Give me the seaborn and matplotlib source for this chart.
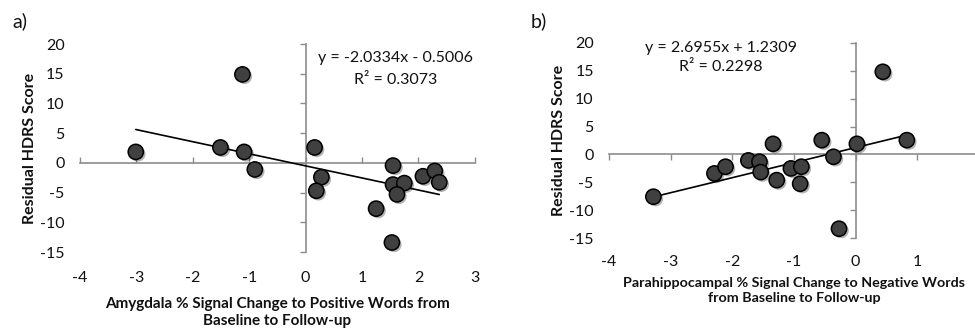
import numpy as np
import matplotlib
matplotlib.use("Agg")
import matplotlib.pyplot as plt
import matplotlib.patheffects as pe
import seaborn as sns
import pandas as pd

# ---- data ----
amyg_x = [-3.01, -1.12, -1.51, -1.09, -0.90, 0.16, 0.28, 0.19, 1.55, 1.55,
          1.75, 1.62, 1.25, 1.53, 2.08, 2.29, 2.37]
amyg_y = [1.85, 14.9, 2.6, 1.85, -1.1, 2.6, -2.4, -4.7, -0.45, -3.65,
          -3.4, -5.3, -7.7, -13.4, -2.25, -1.35, -3.26]
amyg_slope, amyg_icpt = -2.0334, -0.5006
amyg_eq = ["y = -2.0334x - 0.5006", "R² = 0.3073"]

para_x = [-3.28, -2.29, -2.11, -1.74, -1.56, -1.54, -1.34, -1.28, -1.05, -0.88,
          -0.90, -0.55, -0.36, -0.27, 0.02, 0.44, 0.83]
para_y = [-7.57, -3.4, -2.2, -1.07, -1.3, -3.16, 1.9, -4.6, -2.5, -2.2,
          -5.25, 2.56, -0.42, -13.3, 1.9, 14.8, 2.56]
para_slope, para_icpt = 2.6955, 1.2309
para_eq = ["y = 2.6955x + 1.2309", "R² = 0.2298"]

y_ticks = [-15, -10, -5, 0, 5, 10, 15, 20]
ylabel = "Residual HDRS Score"
xlabel_a = "Amygdala % Signal Change to Positive Words from\nBaseline to Follow-up"
xlabel_b = "Parahippocampal % Signal Change to Negative Words\nfrom Baseline to Follow-up"

sns.set_theme(style="white")
plt.rcParams['font.family'] = ['Lato', 'DejaVu Sans']
plt.rcParams['axes.unicode_minus'] = False

fig = plt.figure(figsize=(9.75, 3.29), dpi=100)
ax_a = fig.add_axes([0.082, 0.234, 0.405, 0.632])
ax_b = fig.add_axes([0.6246, 0.276, 0.3795, 0.594])

AX_COL = "#8c8c8c"
TXT = "#111111"


def style_panel(ax, xlim, xticks, xtick_dir, xlabel, eq, eq_pos, fs, xfs,
                xpad, ypad, xlpad):
    ax.set_xlim(*xlim)
    ax.set_ylim(-15, 20)
    for s in ["top", "right"]:
        ax.spines[s].set_visible(False)
    ax.spines["left"].set_position(("data", 0))
    ax.spines["bottom"].set_position(("data", 0))
    for s in ["left", "bottom"]:
        ax.spines[s].set_color(AX_COL)
        ax.spines[s].set_linewidth(1.2)
    ax.set_xticks(xticks)
    ax.set_yticks(y_ticks)
    ax.tick_params(axis="y", direction="out", length=4, width=1, color=AX_COL,
                   labelleft=False, left=True)
    ax.tick_params(axis="x", direction=xtick_dir, length=4, width=1, color=AX_COL,
                   labelbottom=False, bottom=True)
    ax.set_xlabel("")
    ax.set_ylabel("")
    secy = ax.secondary_yaxis("left")
    secy.set_yticks(y_ticks)
    secy.tick_params(length=0, pad=ypad, labelsize=fs, labelcolor=TXT)
    secy.spines["left"].set_visible(False)
    secy.set_ylabel(ylabel, fontsize=fs, fontweight="bold", labelpad=2, color=TXT)
    secx = ax.secondary_xaxis("bottom")
    secx.set_xticks(xticks)
    secx.tick_params(length=0, pad=xpad, labelsize=fs, labelcolor=TXT)
    secx.spines["bottom"].set_visible(False)
    secx.set_xlabel(xlabel, fontsize=xfs, fontweight="bold", labelpad=xlpad,
                    linespacing=1.3, color=TXT)
    ax.text(eq_pos[0], eq_pos[1], eq[0], transform=ax.transAxes, ha="center",
            va="center", fontsize=fs, color=TXT)
    ax.text(eq_pos[0], eq_pos[2], eq[1], transform=ax.transAxes, ha="center",
            va="center", fontsize=fs, color=TXT)


def draw(ax, xs, ys, slope, icpt):
    df = pd.DataFrame({"x": xs, "y": ys})
    xl = np.array([min(xs), max(xs)])
    ax.plot(xl, slope * xl + icpt, color="black", lw=1.2, zorder=3)
    sns.scatterplot(data=df, x="x", y="y", ax=ax, s=120, color="#404040",
                    edgecolor="black", linewidth=1.1, zorder=4, legend=False)
    coll = ax.collections[-1]
    coll.set_path_effects([pe.SimplePatchShadow(offset=(1.5, -1.5), alpha=0.3,
                                                shadow_rgbFace="black"),
                           pe.Normal()])


draw(ax_a, amyg_x, amyg_y, amyg_slope, amyg_icpt)
draw(ax_b, para_x, para_y, para_slope, para_icpt)

style_panel(ax_a, (-4, 3), [-4, -3, -2, -1, 0, 1, 2, 3], "in", xlabel_a,
            amyg_eq, (0.80, 0.933, 0.827), 11.5, 11, 14, 11, 8)
style_panel(ax_b, (-4, 2), [-4, -3, -2, -1, 0, 1], "out", xlabel_b,
            para_eq, (0.303, 0.973, 0.876), 11.5, 10.3, 12, 11, 6)

fig.text(0.013, 0.937, "a)", fontsize=14, va="center", ha="left", color=TXT)
fig.text(0.544, 0.937, "b)", fontsize=14, va="center", ha="left", color=TXT)

fig.savefig("out.png", dpi=100)
